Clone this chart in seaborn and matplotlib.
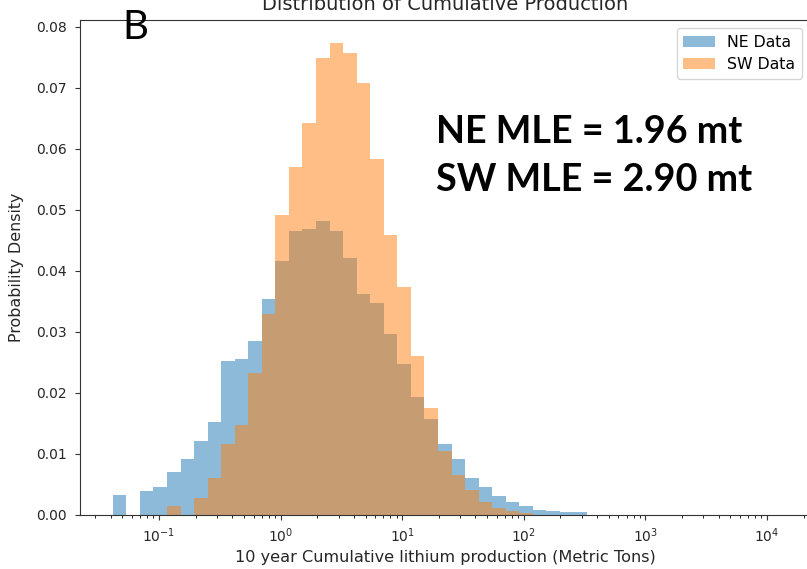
import numpy as np
import pandas as pd
import matplotlib
matplotlib.use("Agg")
import matplotlib.pyplot as plt
import seaborn as sns

plt.rcParams["font.family"] = ["DejaVu Sans"]

# ---- data ----
log_edge_lo = -1.380          # log10 of first bin edge
log_edge_hi = 4.080           # log10 of last bin edge
n_bins = 49

ne_density = [0.0033, 0.0, 0.0040, 0.0046, 0.0071, 0.0091, 0.0121, 0.0153,
              0.0252, 0.0255, 0.0285, 0.0354, 0.0416, 0.0466, 0.0468, 0.0481,
              0.0466, 0.0421, 0.0362, 0.0347, 0.0297, 0.0248, 0.0193, 0.0157,
              0.0116, 0.0091, 0.0061, 0.0046, 0.0031, 0.0021, 0.0014, 0.0009,
              0.0007, 0.00045, 0.00045] + [0.0] * 14
sw_density = [0.0, 0.0, 0.0, 0.0, 0.0014, 0.0, 0.0028, 0.0061,
              0.0116, 0.0148, 0.0232, 0.0330, 0.0491, 0.0570, 0.0642, 0.0749,
              0.0774, 0.0757, 0.0708, 0.0584, 0.0459, 0.0374, 0.0260, 0.0175,
              0.0105, 0.0066, 0.0041, 0.0021, 0.0012, 0.0006, 0.0003] + [0.0] * 18
series_labels = ["NE Data", "SW Data"]
title = "Distribution of Cumulative Production"
xlabel = "10 year Cumulative lithium production (Metric Tons)"
ylabel = "Probability Density"
panel_label = "B"
mle_lines = ["NE MLE = 1.96 mt", "SW MLE = 2.90 mt"]

log_edges = np.linspace(log_edge_lo, log_edge_hi, n_bins + 1)
centers = 10 ** ((log_edges[:-1] + log_edges[1:]) / 2)
df_ne = pd.DataFrame({"center": centers, "density": np.asarray(ne_density, float)})
df_sw = pd.DataFrame({"center": centers, "density": np.asarray(sw_density, float)})

# ---- figure ----
W, H = 807, 569
fig = plt.figure(figsize=(W / 100, H / 100), dpi=100)
ax = fig.add_axes([80 / W, 54 / H, 730 / W, 495 / H])

common = dict(x="center", weights="density", bins=n_bins,
              binrange=(log_edge_lo, log_edge_hi), log_scale=True,
              stat="count", alpha=0.5, linewidth=0, ax=ax)
sns.histplot(data=df_ne, color="#1f77b4", label=series_labels[0], **common)
sns.histplot(data=df_sw, color="#ff7f0e", label=series_labels[1], **common)

ax.set_xlim(10 ** -1.6497, 10 ** 4.354)
ax.set_ylim(0, 0.0811)
ax.set_yticks(np.arange(0, 0.081, 0.01))
ax.yaxis.set_major_formatter(matplotlib.ticker.FormatStrFormatter("%.2f"))
ax.tick_params(labelsize=10, colors="#333333", labelcolor="#262626")
ax.tick_params(axis="y", pad=6)
ax.tick_params(axis="x", which="major", pad=5)
for s in ax.spines.values():
    s.set_color("#333333")

ax.set_xlabel(xlabel, fontsize=11.6, color="#262626", labelpad=3)
ax.set_ylabel(ylabel, fontsize=11.4, color="#262626", labelpad=9)
ax.set_title(title, fontsize=14, color="#262626", pad=7)

leg = ax.legend(loc="upper right", bbox_to_anchor=(801.7 / W, 1 - 28.3 / H),
                bbox_transform=fig.transFigure, borderaxespad=0, fontsize=11.3)

fig.text(122 / W, 1 - 39 / H, panel_label, fontsize=29, family=["Lato", "DejaVu Sans"],
         color="black", va="baseline")
fig.text(436 / W, 1 - 143 / H, mle_lines[0], fontsize=27.2, family=["Lato", "DejaVu Sans"],
         weight="bold", color="black", va="baseline")
fig.text(436 / W, 1 - 190.5 / H, mle_lines[1], fontsize=27.2, family=["Lato", "DejaVu Sans"],
         weight="bold", color="black", va="baseline")

fig.savefig("out.png", dpi=100)
